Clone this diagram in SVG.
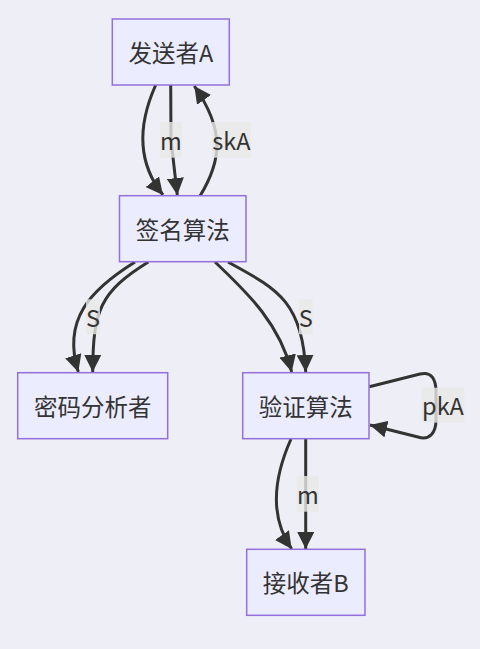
<svg xmlns="http://www.w3.org/2000/svg" width="480" height="649" viewBox="0 0 480 649">
<style>
.node rect{fill:#ECECFF;stroke:#9370DB;stroke-width:1.5}
.node text,.lbl text{font-family:"Noto Sans CJK SC","Noto Sans",sans-serif;font-size:23.5px;fill:#333;text-anchor:middle;dominant-baseline:central}
.edge{fill:none;stroke:#333;stroke-width:3;marker-end:url(#arrow)}
.lbl rect{fill:#e8e8e8;opacity:0.8}
</style>
<defs>
<marker id="arrow" viewBox="0 0 10 10" refX="10" refY="5" markerWidth="17" markerHeight="17" markerUnits="userSpaceOnUse" orient="auto">
<path d="M0,0 L10,5 L0,10 z" fill="#333"/>
</marker>
</defs>
<rect width="480" height="649" fill="#eeeef6"/>
<g id="connectors">
<path class="edge" d="M155.7,85 C140,120 135,160 163,195"/>
<path class="edge" d="M170.7,85 L171,140 L177.3,195"/>
<path class="edge" d="M200,196 C222,160 225,130 194.3,86"/>
<path class="edge" d="M135,262 C90,290 62,320 78.3,372"/>
<path class="edge" d="M148.3,262 C100,292 93,310 92.7,372"/>
<path class="edge" d="M215,262 C250,295 280,325 291.7,372"/>
<path class="edge" d="M228,262 C275,288 303,300 305.7,372"/>
<path class="edge" d="M369.3,386.7 L420,374 C432,371 436,380 436,392 L436,420 C436,432 430,441 418,437 L370,425"/>
<path class="edge" d="M291,439 C275,475 268,515 291.7,549"/>
<path class="edge" d="M305.7,439 L305.7,549"/>
<g class="lbl">
<rect x="160" y="122" width="21.7" height="35.7"/><text x="170.8" y="139.8">m</text>
<rect x="212" y="122" width="39" height="35.7"/><text x="231.5" y="139.8">skA</text>
<rect x="86" y="299.3" width="14" height="35"/><text x="93" y="316.8">S</text>
<rect x="299" y="299.3" width="13.7" height="35"/><text x="305.8" y="316.8">S</text>
<rect x="421.7" y="387.7" width="42.6" height="35"/><text x="443" y="405.2">pkA</text>
<rect x="296.7" y="476" width="22.3" height="35.7"/><text x="307.8" y="493.8">m</text>
</g>
</g>
<g id="senderA" class="node"><rect x="112.3" y="19" width="117" height="66"/><text x="170.8" y="52">发送者A</text></g>
<g id="sign" class="node"><rect x="119.5" y="195.7" width="126.5" height="66"/><text x="182.7" y="228.7">签名算法</text></g>
<g id="analyst" class="node"><rect x="17.7" y="372.7" width="150" height="66"/><text x="92.7" y="405.7">密码分析者</text></g>
<g id="verify" class="node"><rect x="242.7" y="372.7" width="126.3" height="66"/><text x="305.8" y="405.7">验证算法</text></g>
<g id="receiverB" class="node"><rect x="246.7" y="549.3" width="118.3" height="66"/><text x="305.8" y="582.3">接收者B</text></g>
</svg>
